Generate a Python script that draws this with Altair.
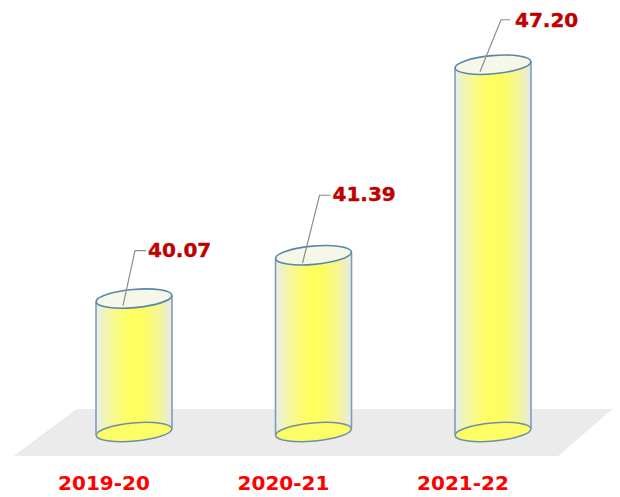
import altair as alt
import pandas as pd

years = ["2019-20", "2020-21", "2021-22"]
values = [40.07, 41.39, 47.20]
value_labels = ["40.07", "41.39", "47.20"]

df = pd.DataFrame({"year": years, "value": values, "label": value_labels})

FONT = "DejaVu Sans"
BASE = 36
TOP = 48.93
TILT = 0.1
ELLIPSE = "M-1,0 A1,0.24 0 1 1 1,0 A1,0.24 0 1 1 -1,0 Z"
FLOOR = "M-1,0.0786 L-0.789,-0.0786 L1,-0.0786 L0.819,0.0786 Z"
LEADERS = ["M-11,7 L1,-48 L12,-48", "M-11,8 L6,-60 L17,-60", "M-13,7 L8,-45 L17,-45"]
LABEL_OFFSETS = [(14, -48), (19, -60), (22, -44)]

y_scale = alt.Scale(domain=[BASE, TOP], zero=False, nice=False)

x = alt.X(
    "year:N",
    sort=years,
    scale=alt.Scale(domain=years, range=[36.25, 574.75], paddingInner=0, paddingOuter=0),
    axis=alt.Axis(
        title=None, domain=False, ticks=False, grid=False, labelAngle=0,
        labelFont=FONT, labelFontSize=20, labelFontWeight="bold",
        labelColor="#ff0000", labelPadding=41, labelOffset=-30,
    ),
)
y = alt.Y("value:Q", scale=y_scale, axis=None)

gradient = alt.Gradient(
    gradient="linear", x1=0, x2=1, y1=0, y2=0,
    stops=[
        alt.GradientStop(offset=0, color="#e4eef0"),
        alt.GradientStop(offset=0.1, color="#eff3bc"),
        alt.GradientStop(offset=0.27, color="#f9f985"),
        alt.GradientStop(offset=0.45, color="#ffff5e"),
        alt.GradientStop(offset=0.62, color="#fdfd62"),
        alt.GradientStop(offset=0.8, color="#f7f78e"),
        alt.GradientStop(offset=0.92, color="#eeeebd"),
        alt.GradientStop(offset=1, color="#e2ecee"),
    ],
)

base = alt.Chart(df)

floor = base.mark_point(
    shape=FLOOR, size=357604, filled=True, fill="#ebebeb", stroke=None, opacity=1
).encode(x=alt.value(305), y=alt.value(424.5))

body = base.mark_bar(size=76, fill=gradient, stroke=None).encode(
    x=x, y=y, y2=alt.datum(BASE)
)

left_side = base.transform_calculate(a=f"datum.value - {TILT}").mark_rule(
    xOffset=-38, stroke="#7f9db8", strokeWidth=1.6
).encode(x=x, y=alt.Y("a:Q", scale=y_scale, axis=None), y2=alt.datum(BASE - TILT))

right_side = base.transform_calculate(a=f"datum.value + {TILT}").mark_rule(
    xOffset=38, stroke="#7f9db8", strokeWidth=1.6
).encode(x=x, y=alt.Y("a:Q", scale=y_scale, axis=None), y2=alt.datum(BASE + TILT))

bottom = base.transform_calculate(b=f"{BASE}").mark_point(
    shape=ELLIPSE, size=5776, angle=355, filled=True, fill="#fdfd66",
    stroke="#6e8fa8", strokeWidth=1.5, opacity=1,
).encode(x=x, y=alt.Y("b:Q", scale=y_scale, axis=None))

top = base.mark_point(
    shape=ELLIPSE, size=5776, angle=355, filled=True, fill="#f5f8e8",
    stroke="#5a86aa", strokeWidth=1.6, opacity=1,
).encode(x=x, y=y)

layers = [floor, body, bottom, left_side, right_side, top]

for i, yr in enumerate(years):
    row = alt.Chart(df[df.year == yr])
    layers.append(
        row.mark_point(
            shape=LEADERS[i], size=4, filled=False, stroke="#8c8c8c",
            strokeWidth=1.2, opacity=1,
        ).encode(x=x, y=y)
    )
    dx, dy = LABEL_OFFSETS[i]
    layers.append(
        row.mark_text(
            align="left", baseline="middle", dx=dx, dy=dy, font=FONT,
            fontSize=20, fontWeight="bold", color="#c00000",
            stroke="#c00000", strokeWidth=0.4,
        ).encode(x=x, y=y, text="label:N")
    )

chart = (
    alt.layer(*layers)
    .properties(width=604, height=424, padding=0, background="white")
    .configure_view(stroke=None)
)

chart.save("out.html", embed_options={"renderer": "svg", "actions": False})
